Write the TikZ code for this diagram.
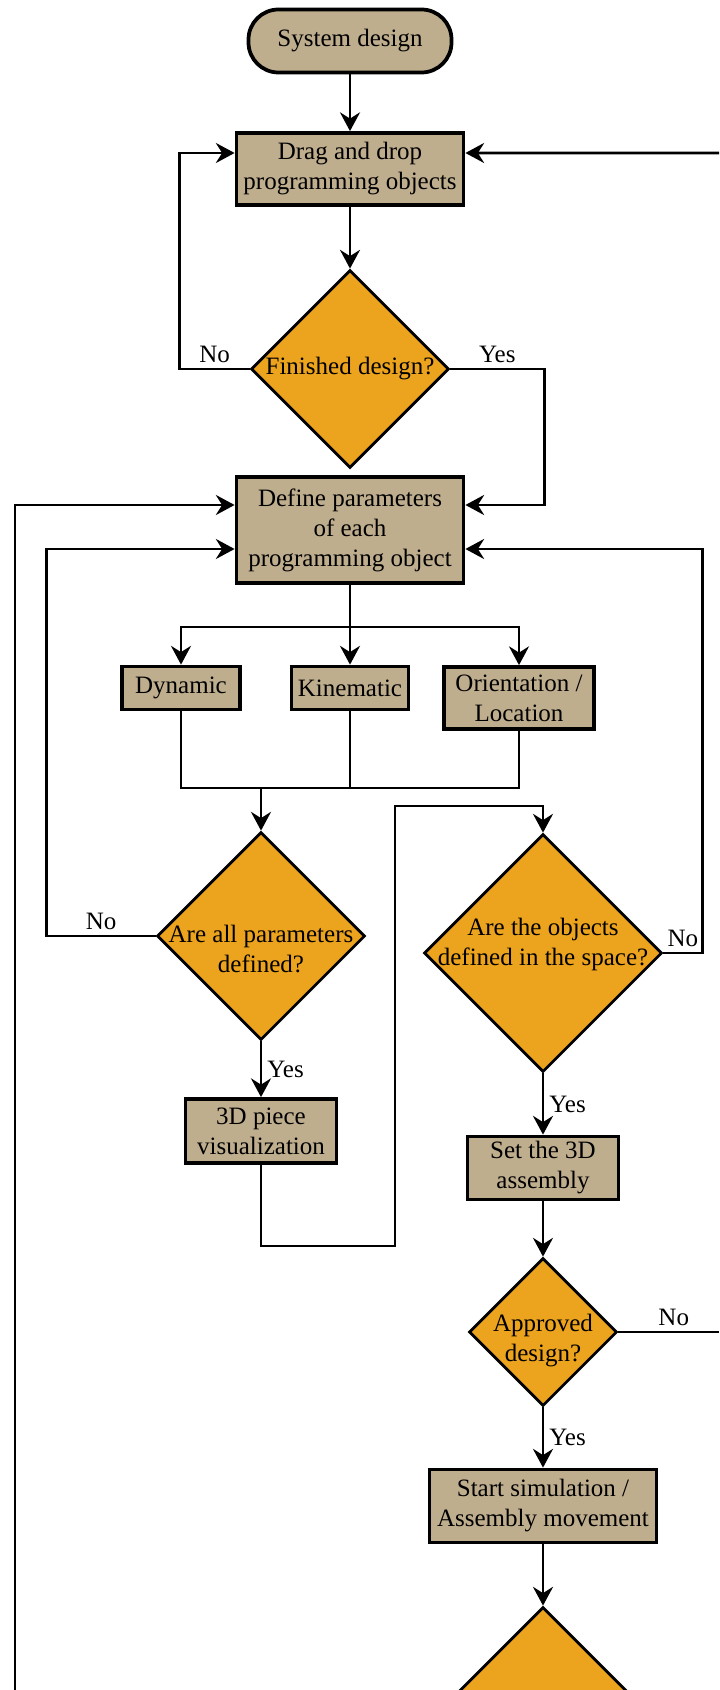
\documentclass[tikz,border=0pt]{standalone}
\usepackage{fontspec}
\setmainfont{Liberation Serif}
\usetikzlibrary{shapes.geometric,arrows.meta}
\definecolor{boxtan}{RGB}{191,174,142}
\definecolor{decorange}{RGB}{236,163,29}
\begin{document}
\begin{tikzpicture}[x=0.4pt,y=-0.4pt,font=\fontsize{10}{12}\selectfont,
	box/.style={draw,line width=1.5pt,fill=boxtan,align=center,inner sep=1pt},
	decision/.style={draw,line width=1.1pt,fill=decorange,diamond,inner sep=0pt,aspect=1},
	dtext/.style={align=center,inner sep=0pt},
	conn/.style={line width=1.1pt},
	flow/.style={line width=1.1pt,-{Stealth[length=7.5pt,width=8pt,inset=2.5pt]}},
	lbl/.style={inner sep=2pt}]
	\useasboundingbox (0,0) rectangle (719,1690);
	\clip (0,0) rectangle (719,1690);

	\node[box,rounded corners=12pt,minimum width=81.2pt,minimum height=25.2pt] (sys) at (350,41) {System design};%start
	\node[box,minimum width=90.8pt,minimum height=28.8pt] (drag) at (350,169) {Drag and drop\\programming objects};
	\node[decision,minimum width=79.2pt,minimum height=79.2pt] (fin) at (350,369) {};
	\node[dtext] (fintxt) at (350,369) {Finished design?};
	\node[box,minimum width=90.8pt,minimum height=42.4pt] (def) at (350,530) {Define parameters\\of each\\programming object};

	\node[box,minimum width=47pt,minimum height=17.2pt] (dyn) at (181,688) {Dynamic};
	\node[box,minimum width=46.8pt,minimum height=17.2pt] (kin) at (350,688) {Kinematic};
	\node[box,minimum width=60pt,minimum height=24.8pt] (ori) at (519,698) {Orientation /\\Location};

	\node[decision,minimum width=83.2pt,minimum height=83.2pt] (aap) at (261,936) {};
	\node[dtext] (aaptxt) at (261,949) {Are all parameters\\defined?};
	\node[box,minimum width=60.4pt,minimum height=25.6pt] (pie) at (261,1131) {3D piece\\visualization};

	\node[decision,minimum width=95.2pt,minimum height=95.2pt] (obj) at (543,953) {};
	\node[dtext] (objtxt) at (543,944) {Are the objects\\defined in the space?};
	\node[box,minimum width=60.4pt,minimum height=25.2pt] (set) at (543,1168) {Set the 3D\\assembly};
	\node[decision,minimum width=59.2pt,minimum height=59.2pt] (app) at (543,1332) {};
	\node[dtext] (apptxt) at (543,1341) {Approved\\design?};
	\node[box,minimum width=90.8pt,minimum height=29.2pt] (sim) at (543,1506) {Start simulation /\\Assembly movement};
	\node[decision,minimum width=83.2pt,minimum height=83.2pt] (last) at (543,1711) {};%cut off

	\coordinate (topin) at (719,153);
	\coordinate (botL) at (15,1690);
	\coordinate (rightout) at (719,1332);
	\coordinate (merge) at (261,788);

	\draw[flow] (sys) -- (drag);
	\draw[flow] (drag) -- (fin);
	\draw[flow] (fin.west) -- node[lbl,above] {No} ++(-70,0) |- ([yshift=6.4pt]drag.west);%loop back
	\draw[flow] (topin) -- ([yshift=6.4pt]drag.east);
	\draw[flow] (fin.east) -- node[lbl,above] {Yes} ++(94,0) |- ([yshift=10pt]def.east);
	\draw[flow] (botL) |- ([yshift=10pt]def.west);

	\draw[flow] (def.south) -- ++(0,42) -| (dyn.north);
	\draw[flow] (def.south) -- (kin.north);
	\draw[flow] (def.south) -- ++(0,42) -| (ori.north);
	\draw[conn] (dyn.south) |- (merge) -| (ori.south);
	\draw[conn] (kin.south) -- (kin.south |- merge);
	\draw[flow] (merge) -- (aap.north);

	\draw[flow] (aap.west) -- node[lbl,above] {No} ++(-109,0) |- ([yshift=-7.6pt]def.west);
	\draw[flow] (aap.south) -- node[lbl,right] {Yes} (pie.north);
	\draw[flow] (pie.south) |- (395,1246) -- (395,806) -| (obj.north);%to second check

	\draw[flow] (obj.east) -- node[lbl,above] {No} ++(39,0) |- ([yshift=-7.6pt]def.east);
	\draw[flow] (obj.south) -- node[lbl,right] {Yes} (set.north);
	\draw[flow] (set) -- (app);
	\draw[conn] (app.east) -- node[lbl,above,pos=0.55] {No} (rightout);
	\draw[flow] (app.south) -- node[lbl,right] {Yes} (sim.north);
	\draw[flow] (sim) -- (last);
\end{tikzpicture}
\end{document}
